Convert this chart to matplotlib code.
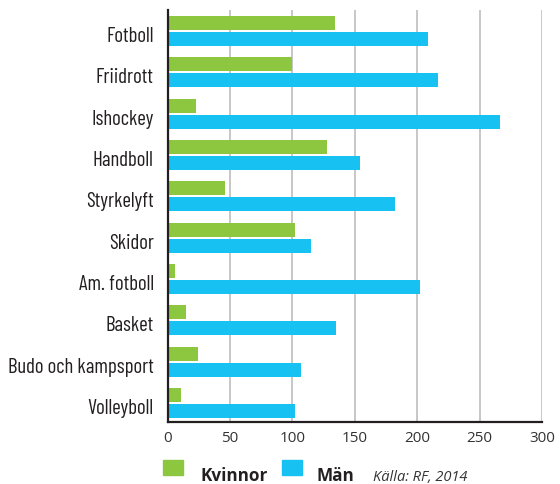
import matplotlib
matplotlib.use("Agg")
import matplotlib.pyplot as plt
from matplotlib.patches import Rectangle
import numpy as np

categories = ["Fotboll", "Friidrott", "Ishockey", "Handboll", "Styrkelyft",
              "Skidor", "Am. fotboll", "Basket", "Budo och kampsport", "Volleyboll"]
kvinnor = [134, 100, 23, 128, 46, 102, 6, 15, 24, 11]
man = [209, 217, 266, 154, 182, 115, 202, 135, 107, 102]
x_ticks = [0, 50, 100, 150, 200, 250, 300]

GREEN = "#8DC63F"
BLUE = "#17C1F2"
DARK = "#231F20"
GRID = "#BEBEBE"

W, H = 560, 485
fig = plt.figure(figsize=(W / 100, H / 100), dpi=100)
ax = fig.add_axes([167.7 / W, 1 - 423 / H, (542 - 167.7) / W, (423 - 11) / H])

y = np.arange(len(categories))
bh = 0.339
off = 0.1935
ax.barh(y - off, kvinnor, height=bh, color=GREEN, zorder=3)
ax.barh(y + off, man, height=bh, color=BLUE, zorder=3)

ax.set_xlim(0, 300)
ax.set_ylim(9.46, -0.508)
ax.set_xticks(x_ticks)
ax.set_yticks(y + 0.06)
ax.set_yticklabels(categories, family=["Barlow Condensed", "DejaVu Sans"],
                   fontsize=15, color=DARK, fontstretch="condensed")
ax.tick_params(axis="y", length=0, pad=10)
ax.tick_params(axis="x", length=0, pad=6, labelsize=11, labelcolor="#333333")
for lab in ax.get_xticklabels():
    lab.set_family(["Open Sans", "DejaVu Sans"])

for v in x_ticks[1:]:
    ax.axvline(v, color=GRID, lw=1.2, zorder=1)

for s in ["top", "right"]:
    ax.spines[s].set_visible(False)
for s in ["left", "bottom"]:
    ax.spines[s].set_color(DARK)
    ax.spines[s].set_linewidth(1.6)
    ax.spines[s].set_zorder(4)

# Legend row below the axis
def fx(px):
    return px / W

def fy(py):
    return 1 - py / H

fig.patches.append(Rectangle((fx(163), fy(476)), 20 / W, 15 / H,
                             transform=fig.transFigure, color=GREEN))
fig.text(fx(200), fy(481), "Kvinnor", fontsize=12.3, fontweight="bold",
         family=["Open Sans", "DejaVu Sans"], color=DARK, va="baseline")
fig.patches.append(Rectangle((fx(282), fy(476)), 20 / W, 15 / H,
                             transform=fig.transFigure, color=BLUE))
fig.text(fx(317), fy(481), "Män", fontsize=12.3, fontweight="bold",
         family=["Open Sans", "DejaVu Sans"], color=DARK, va="baseline")
fig.text(fx(373), fy(481), "Källa: RF, 2014", fontsize=10.5, style="italic",
         family=["Open Sans", "DejaVu Sans"], color="#333333", va="baseline")

fig.savefig("out.png", dpi=100)
